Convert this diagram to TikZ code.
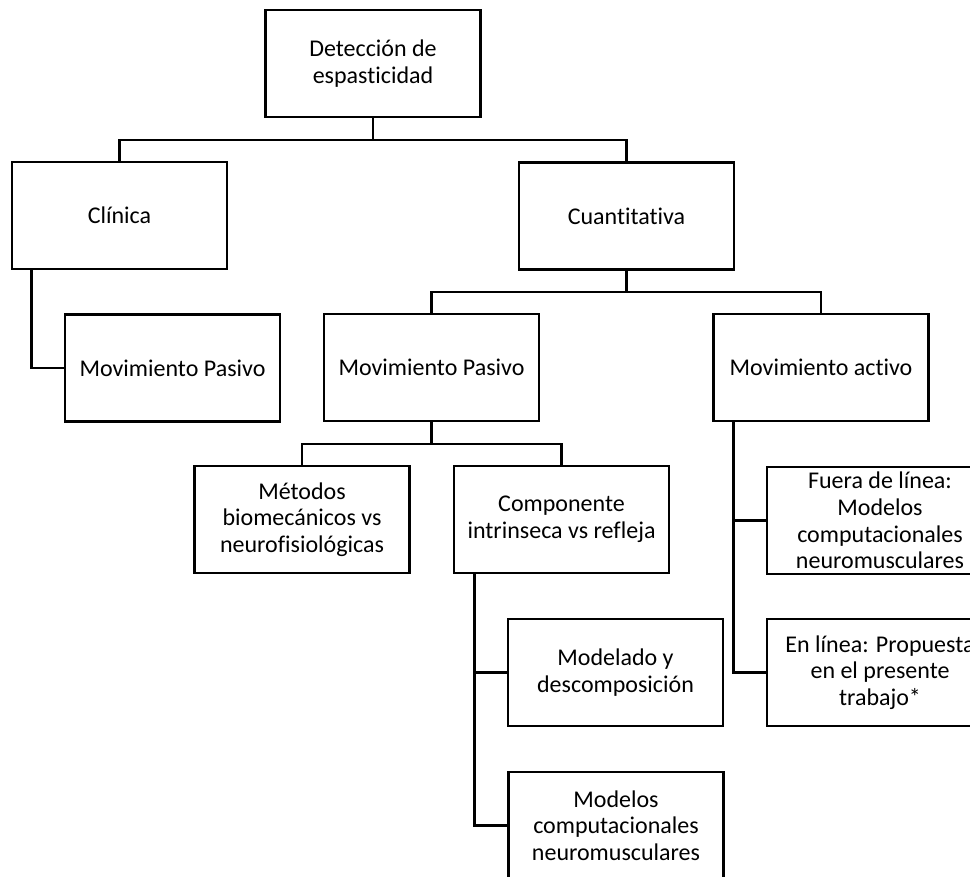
\documentclass[tikz,border=0pt]{standalone}
\usepackage{fontspec}
\setmainfont{Carlito}[Ligatures=NoCommon]
\usetikzlibrary{calc}

\tikzset{
  box/.style={draw=black, line width=2.2pt, rectangle, align=center,
    inner sep=0pt, minimum width=161.25pt, minimum height=80.25pt,
    font=\fontsize{18}{20}\selectfont},
  widebox/.style={box, minimum width=169.5pt},
  link/.style={draw=black, line width=2.2pt}
}

\begin{document}
\begin{tikzpicture}[x=0.75pt, y=-0.75pt]
  \useasboundingbox (0,0) rectangle (970,877);
  \clip (0,0) rectangle (970,877);

  % level 0
  \node[box] (top) at (373,63.5) {Detección de\\espasticidad};

  % level 1
  \node[box] (clin)  at (119.5,215.5) {Clínica};
  \node[box] (cuant) at (626.5,216) {Cuantitativa};

  % level 2
  \node[box] (mp1)  at (172.5,368) {Movimiento Pasivo};
  \node[box] (mp2)  at (431.5,367.5) {Movimiento Pasivo};
  \node[box] (mact) at (821,367.5) {Movimiento activo};

  % level 3
  \node[box] (metod) at (302,519.5) {Métodos\\biomecánicos vs\\neurofisiológicas};
  \node[box] (comp)  at (561.5,519.5) {Componente\\intrinseca vs refleja};
  \node[widebox] (fuera) at (880,520.5) {Fuera de línea:\\Modelos\\computacionales\\neuromusculares};
  \node[widebox] (enl)   at (880,672.5) {En línea: Propuesta\\en el presente\\trabajo*};

  % level 4
  \node[box] (model)   at (615.5,672.5) {Modelado y\\descomposición};
  \node[box] (modcomp) at (616,825.5) {Modelos\\computacionales\\neuromusculares};

  % bus junctions
  \coordinate (b1) at (373,140);
  \coordinate (b2) at (626.5,292);
  \coordinate (b3) at (431.5,444);
  \coordinate (c1) at ($(clin.south west)+(21,0)$);
  \coordinate (c2) at ($(mact.south west)+(21,0)$);
  \coordinate (c3) at ($(comp.south west)+(22,0)$);

  % top-down tree connectors
  \draw[link] (top.south) -- (b1);
  \draw[link] (clin.north) |- (b1) -| (cuant.north);
  \draw[link] (cuant.south) -- (b2);
  \draw[link] (mp2.north) |- (b2) -| (mact.north);
  \draw[link] (mp2.south) -- (b3);
  \draw[link] (metod.north) |- (b3) -| (comp.north);

  % side-branch connectors
  \draw[link] (c1) |- (mp1.west);
  \draw[link] (c2) |- (enl.west);
  \draw[link] (c2 |- fuera.west) -- (fuera.west);
  \draw[link] (c3) |- (modcomp.west);
  \draw[link] (c3 |- model.west) -- (model.west);
\end{tikzpicture}
\end{document}
